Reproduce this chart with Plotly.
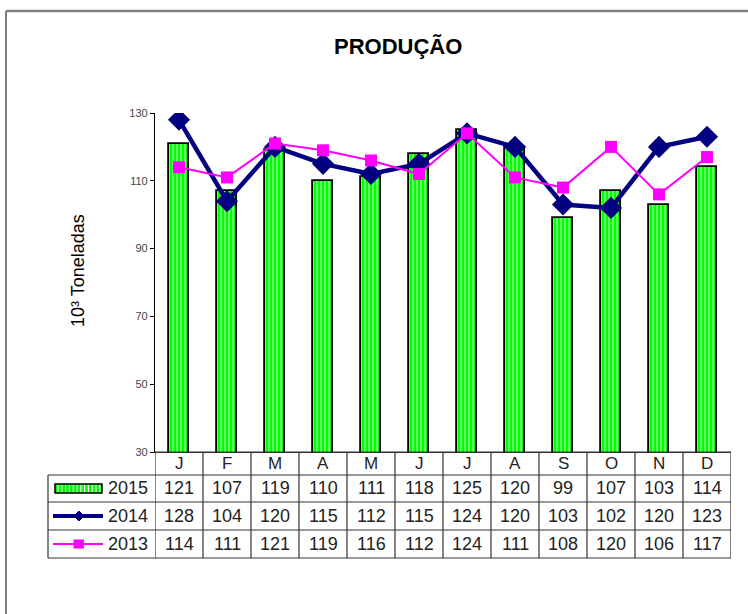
import plotly.graph_objects as go

months = ["J", "F", "M", "A", "M", "J", "J", "A", "S", "O", "N", "D"]
series_names = ["2015", "2014", "2013"]
v2015 = [121, 107, 119, 110, 111, 118, 125, 120, 99, 107, 103, 114]
v2014 = [128, 104, 120, 115, 112, 115, 124, 120, 103, 102, 120, 123]
v2013 = [114, 111, 121, 119, 116, 112, 124, 111, 108, 120, 106, 117]
y_ticks = [30, 50, 70, 90, 110, 130]

W, H = 748, 614
L, R, T, B = 155, 731, 113, 452  # plot area in px
FONT = "Liberation Sans, Arial, sans-serif"

def px(xp):
    return (xp - L) / (R - L)

def py(yp):
    return (B - yp) / (B - T)

xs = list(range(len(months)))

fig = go.Figure()
fig.add_trace(go.Bar(
    x=xs, y=v2015, name=series_names[0], width=0.42,
    marker=dict(color="#00FF00", line=dict(color="black", width=1.8),
                pattern=dict(shape="|", fgcolor="white", bgcolor="#00FF00",
                             size=4, solidity=0.4)),
))
fig.add_trace(go.Scatter(
    x=xs, y=v2014, name=series_names[1], mode="lines+markers",
    line=dict(color="#000080", width=4.5),
    marker=dict(symbol="diamond", size=17, color="#000080"),
))
fig.add_trace(go.Scatter(
    x=xs, y=v2013, name=series_names[2], mode="lines+markers",
    line=dict(color="#FF00FF", width=2),
    marker=dict(symbol="square", size=12, color="#FF00FF"),
))

shapes = []
annotations = []
LC = "#333333"

# frame
shapes.append(dict(type="line", xref="paper", yref="paper", x0=px(6), x1=px(W + 5),
                   y0=py(11), y1=py(11), line=dict(color="#808080", width=2.5)))
shapes.append(dict(type="line", xref="paper", yref="paper", x0=px(6), x1=px(6),
                   y0=py(11), y1=py(H + 5), line=dict(color="#808080", width=2)))

# table geometry (px)
rows_y = [452, 475, 502, 530, 558]
leg_left = 48
for i, yy in enumerate(rows_y):
    x0 = L if i == 0 else leg_left
    shapes.append(dict(type="line", xref="paper", yref="paper", x0=px(x0), x1=1,
                       y0=py(yy), y1=py(yy), line=dict(color=LC, width=1.2)))
for k in range(len(months) + 1):
    shapes.append(dict(type="line", xref="x", yref="paper", x0=k - 0.5, x1=k - 0.5,
                       y0=py(rows_y[0]), y1=py(rows_y[-1]), line=dict(color=LC, width=1.2)))
shapes.append(dict(type="line", xref="paper", yref="paper", x0=px(leg_left), x1=px(leg_left),
                   y0=py(rows_y[1]), y1=py(rows_y[-1]), line=dict(color=LC, width=1.2)))

hc = (rows_y[0] + rows_y[1]) / 2
for i, m in enumerate(months):
    annotations.append(dict(x=i, y=py(hc), xref="x", yref="paper", text=m, showarrow=False,
                            font=dict(family=FONT, size=17, color="#222222"),
                            xanchor="center", yanchor="middle"))
for r, vals in enumerate([v2015, v2014, v2013]):
    cy = (rows_y[r + 1] + rows_y[r + 2]) / 2
    for i, v in enumerate(vals):
        annotations.append(dict(x=i, y=py(cy), xref="x", yref="paper", text=str(v), showarrow=False,
                                font=dict(family=FONT, size=18, color="#222222"),
                                xanchor="center", yanchor="middle"))
    annotations.append(dict(x=px(150), y=py(cy), xref="paper", yref="paper", text=series_names[r],
                            showarrow=False, font=dict(family=FONT, size=18, color="#222222"),
                            xanchor="right", yanchor="middle"))

# legend keys
c1 = (rows_y[1] + rows_y[2]) / 2
shapes.append(dict(type="rect", xref="paper", yref="paper", x0=px(55), x1=px(102),
                   y0=py(c1 - 4.5), y1=py(c1 + 4.5), fillcolor="#00FF00",
                   line=dict(color="black", width=1.5)))
for k in range(12):
    xx = 58 + k * 3.8
    if xx < 100:
        shapes.append(dict(type="line", xref="paper", yref="paper", x0=px(xx), x1=px(xx),
                           y0=py(c1 - 3.5), y1=py(c1 + 3.5), line=dict(color="white", width=1.2)))
c2 = (rows_y[2] + rows_y[3]) / 2
shapes.append(dict(type="line", xref="paper", yref="paper", x0=px(53), x1=px(103),
                   y0=py(c2), y1=py(c2), line=dict(color="#000080", width=4)))
shapes.append(dict(type="path", xref="paper", yref="paper",
                   path=f"M {px(74)},{py(c2)} L {px(79)},{py(c2-5)} L {px(84)},{py(c2)} L {px(79)},{py(c2+5)} Z",
                   fillcolor="#000080", line=dict(color="#000080", width=1)))
c3 = (rows_y[3] + rows_y[4]) / 2
shapes.append(dict(type="line", xref="paper", yref="paper", x0=px(53), x1=px(103),
                   y0=py(c3), y1=py(c3), line=dict(color="#FF00FF", width=2)))
shapes.append(dict(type="rect", xref="paper", yref="paper", x0=px(73.5), x1=px(84),
                   y0=py(c3 - 4.5), y1=py(c3 + 4.5), fillcolor="#FF00FF",
                   line=dict(color="#FF00FF", width=0)))

annotations.append(dict(x=px(398), y=py(47), xref="paper", yref="paper", text="<b>PRODUÇÃO</b>",
                        showarrow=False, font=dict(family=FONT, size=22, color="black"),
                        xanchor="center", yanchor="middle"))
annotations.append(dict(x=px(78), y=py(271), xref="paper", yref="paper", text="10³ Toneladas",
                        showarrow=False, textangle=-90, font=dict(family=FONT, size=18, color="black"),
                        xanchor="center", yanchor="middle"))

fig.update_layout(
    width=W, height=H,
    margin=dict(l=L, r=W - R, t=T, b=H - B),
    paper_bgcolor="white", plot_bgcolor="white",
    showlegend=False, bargap=0,
    shapes=shapes, annotations=annotations,
    xaxis=dict(range=[-0.5, len(months) - 0.5], showticklabels=False, showgrid=False,
               zeroline=False, showline=True, linecolor=LC, linewidth=1.2, ticks=""),
    yaxis=dict(range=[30, 130], tickvals=y_ticks, showgrid=False, zeroline=False,
               showline=True, linecolor="black", linewidth=1.2, ticks="outside", ticklen=4,
               tickcolor="black", tickfont=dict(family=FONT, size=11, color="#444444")),
)

fig.write_html("out.html", config={"displayModeBar": False},
               post_script="document.body.style.margin='0';")
